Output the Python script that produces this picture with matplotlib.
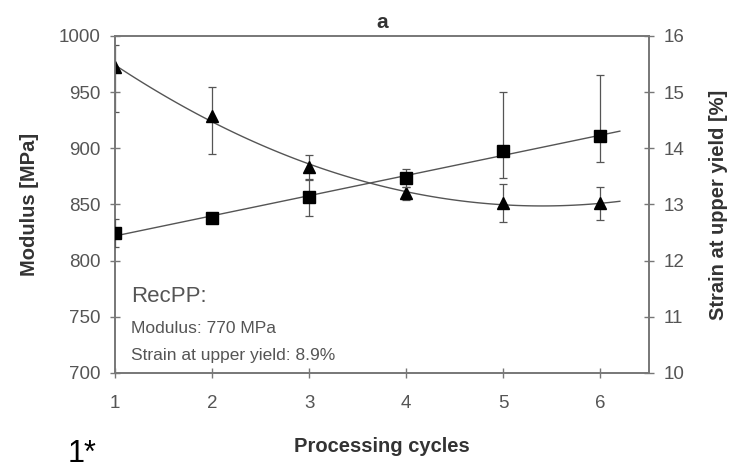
import numpy as np
import matplotlib
matplotlib.use("Agg")
import matplotlib.pyplot as plt

plt.rcParams['font.family'] = ['Liberation Sans', 'DejaVu Sans']

# processing cycles
cycles = [1, 2, 3, 4, 5, 6]

# modulus [MPa] (triangles, left axis)
modulus = [972, 929, 883, 860, 851, 851]
modulus_err_low = [40, 34, 11, 6, 17, 15]
modulus_err_high = [20, 26, 11, 6, 17, 15]

# strain at upper yield [%] (squares, right axis)
strain = [12.49, 12.76, 13.13, 13.47, 13.95, 14.22]
strain_err_low = [0.25, 0.05, 0.34, 0.16, 0.48, 0.47]
strain_err_high = [0.25, 0.05, 0.32, 0.16, 1.05, 1.08]

line_col = '#555555'
text_col = '#555555'

fig = plt.figure(figsize=(7.3, 4.76), dpi=100)
ax = fig.add_axes([0.1575, 0.2164, 0.7315, 0.708])
ax2 = ax.twinx()

xfit = np.linspace(1, 6.2, 100)

# modulus with quadratic fit
p_mod = np.polyfit(cycles, modulus, 2)
ax.plot(xfit, np.polyval(p_mod, xfit), color=line_col, lw=1)
ax.errorbar(cycles, modulus, yerr=[modulus_err_low, modulus_err_high],
            fmt='^', color='black', ms=9, ecolor=line_col, elinewidth=0.9,
            capsize=3, capthick=0.9, zorder=3)

# strain with linear fit
p_str = np.polyfit(cycles, strain, 1)
ax2.plot(xfit, np.polyval(p_str, xfit), color=line_col, lw=1)
ax2.errorbar(cycles, strain, yerr=[strain_err_low, strain_err_high],
             fmt='s', color='black', ms=9, ecolor=line_col, elinewidth=0.9,
             capsize=3, capthick=0.9, zorder=3)

ax.set_xlim(1, 6.5)
ax.set_ylim(700, 1000)
ax.set_yticks(np.arange(700, 1001, 50))
ax.set_xticks(cycles)
ax2.set_ylim(10, 16)
ax2.set_yticks(np.arange(10, 17, 1))

for a in (ax, ax2):
    for s in a.spines.values():
        s.set_color('#777777')
        s.set_linewidth(1.2)
    a.tick_params(direction='inout', length=7, width=1, color='#777777',
                  labelcolor=text_col, labelsize=13.5, pad=7)
ax.tick_params(axis='x', pad=12)

ax.set_xlabel('Processing cycles', fontsize=14.5, fontweight='bold',
              color='#333333', labelpad=18)
ax.set_ylabel('Modulus [MPa]', fontsize=14.5, fontweight='bold',
              color='#333333', labelpad=14)
ax2.set_ylabel('Strain at upper yield [%]', fontsize=14.5, fontweight='bold',
               color='#333333', labelpad=18)
ax.set_title('a', fontsize=15, fontweight='bold', color='#333333', pad=6)

ax.text(0.03, 0.21, 'RecPP:', transform=ax.transAxes, fontsize=16,
        color=text_col)
ax.text(0.03, 0.12, 'Modulus: 770 MPa', transform=ax.transAxes,
        fontsize=12.5, color=text_col)
ax.text(0.03, 0.04, 'Strain at upper yield: 8.9%', transform=ax.transAxes,
        fontsize=12.5, color=text_col)

fig.text(0.093, 0.03, '1*', fontsize=22, color='black')

fig.savefig('out.png', dpi=100)
